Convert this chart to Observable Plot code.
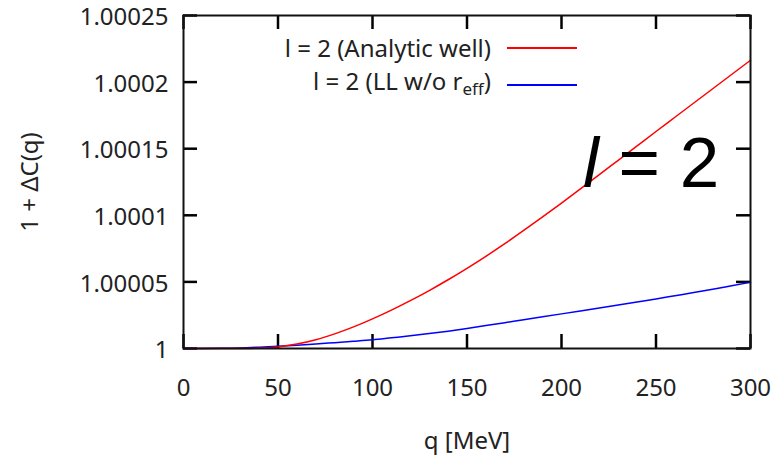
<!DOCTYPE html>
<html>
<head>
<meta charset="utf-8">
<script src="https://cdn.jsdelivr.net/npm/d3@7"></script>
<script src="https://cdn.jsdelivr.net/npm/@observablehq/plot@0.6"></script>
<style>
  html, body { margin: 0; padding: 0; background: #fff; }
  #wrap { position: relative; width: 782px; height: 458px; font-family: "Noto Sans", sans-serif; color: #222; }
  .leg-row { position: absolute; right: 205px; height: 30px; display: flex; align-items: center; gap: 16px; font-size: 24px; line-height: 30px; white-space: nowrap; }
  .swatch { width: 70px; height: 0; border-top: 2px solid; }
  #ann { position: absolute; left: 583px; top: 127px; font-family: "Liberation Sans", Arial, sans-serif; font-size: 71px; line-height: 1; color: #000; white-space: pre; }
</style>
</head>
<body>
<div id="wrap">
  <div id="chart"></div>
</div>
<script>
// ---- data (ΔC values in units of 1e-5) ----
const qValues = [0,10,20,30,40,50,60,70,80,90,100,110,120,130,140,150,160,170,180,190,200,210,220,230,240,250,260,270,280,290,300];
const analyticWell = [0,0,0.001,0.005,0.03,0.12,0.33,0.66,1.1,1.62,2.22,2.88,3.59,4.35,5.16,6.02,6.92,7.87,8.86,9.88,10.92,11.98,13.05,14.13,15.21,16.29,17.36,18.43,19.5,20.57,21.64];
const llNoReff = [0,0.001,0.01,0.04,0.1,0.17,0.25,0.34,0.44,0.54,0.65,0.8,0.95,1.12,1.3,1.5,1.72,1.94,2.16,2.38,2.6,2.82,3.04,3.26,3.49,3.72,3.96,4.2,4.45,4.71,4.97];
const xTicks = [0,50,100,150,200,250,300];
const yTicks = [1, 1.00005, 1.0001, 1.00015, 1.0002, 1.00025];
const yTickLabels = ["1","1.00005","1.0001","1.00015","1.0002","1.00025"];
const seriesNames = ["l = 2 (Analytic well)", "l = 2 (LL w/o r"];
const seriesColors = ["#ff0000", "#0000ff"];
const xLabel = "q [MeV]";
const yLabel = "1 + ΔC(q)";

(function () {
  const rowsA = qValues.map((q, i) => ({q, y: 1 + analyticWell[i] * 1e-5}));
  const rowsB = qValues.map((q, i) => ({q, y: 1 + llNoReff[i] * 1e-5}));

  const W = 782, H = 458, ML = 183, MR = 32, MT = 15, MB = 110;
  const plotW = W - ML - MR, plotH = H - MT - MB;
  const TICK = 14;
  const chart = Plot.plot({
    width: W,
    height: H,
    marginLeft: ML,
    marginRight: MR,
    marginTop: MT,
    marginBottom: MB,
    style: {fontFamily: "'Noto Sans', sans-serif", fontSize: "24px"},
    x: {domain: [0, 300]},
    y: {domain: [1, 1.00025]},
    marks: [
      Plot.tickX(xTicks, {x: d => d, insetTop: plotH - TICK, stroke: "#000", strokeWidth: 2.5}),
      Plot.tickX(xTicks, {x: d => d, insetBottom: plotH - TICK, stroke: "#000", strokeWidth: 2.5}),
      Plot.tickY(yTicks, {y: d => d, insetRight: plotW - TICK, stroke: "#000", strokeWidth: 2.5}),
      Plot.tickY(yTicks, {y: d => d, insetLeft: plotW - TICK, stroke: "#000", strokeWidth: 2.5}),
      Plot.axisX(xTicks, {anchor: "bottom", tickSize: 0, tickPadding: 30, label: xLabel, labelAnchor: "center", labelOffset: 100, labelArrow: "none"}),
      Plot.axisY(yTicks, {anchor: "left", tickSize: 0, tickPadding: 15, dy: 2,
        tickFormat: d => { const k = yTicks.indexOf(d); return k >= 0 ? yTickLabels[k] : String(d); },
        label: yLabel, labelAnchor: "center", labelOffset: 163, labelArrow: "none"}),
      Plot.line(rowsB, {x: "q", y: "y", stroke: seriesColors[1], strokeWidth: 1.5, curve: "monotone-x"}),
      Plot.line(rowsA, {x: "q", y: "y", stroke: seriesColors[0], strokeWidth: 1.5, curve: "monotone-x"}),
      Plot.frame({stroke: "#111", strokeWidth: 2})
    ]
  });
  const wrap = document.getElementById("wrap");
  document.getElementById("chart").appendChild(chart);

  // legend (inside the plot, top)
  const legendTops = [33, 70];
  seriesNames.forEach((name, i) => {
    const row = document.createElement("div");
    row.className = "leg-row";
    row.style.top = legendTops[i] + "px";
    const t = document.createElement("span");
    if (i === 1) {
      t.innerHTML = "l = 2 (LL w/o r<sub style=\"font-size:17px;vertical-align:-5px;\">eff</sub>)";
    } else {
      t.textContent = name;
    }
    const sw = document.createElement("span");
    sw.className = "swatch";
    sw.style.borderTopColor = seriesColors[i];
    row.appendChild(t);
    row.appendChild(sw);
    wrap.appendChild(row);
  });

  // big annotation
  const ann = document.createElement("div");
  ann.id = "ann";
  ann.innerHTML = "<i>l</i> = 2";
  wrap.appendChild(ann);
})();
</script>
</body>
</html>
